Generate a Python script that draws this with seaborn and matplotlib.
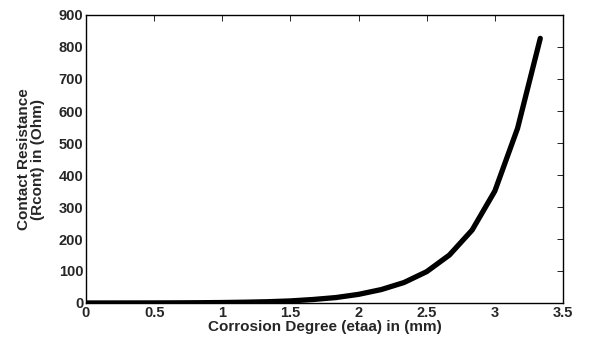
import matplotlib
matplotlib.use("Agg")
import matplotlib.pyplot as plt
import seaborn as sns
import pandas as pd

corrosion = [0.0, 0.1667, 0.3333, 0.5, 0.6667, 0.8333, 1.0, 1.1667, 1.3333, 1.5,
             1.6667, 1.8333, 2.0, 2.1667, 2.3333, 2.5, 2.6667, 2.8333, 3.0, 3.1667, 3.3333]
resistance = [0.05, 0.1, 0.2, 0.3, 0.5, 0.9, 1.5, 2.5, 4.0, 6.5,
              11, 17, 27, 42, 64, 98, 150, 228, 350, 546, 827]

xticks = [0, 0.5, 1, 1.5, 2, 2.5, 3, 3.5]
xticklabels = ["0", "0.5", "1", "1.5", "2", "2.5", "3", "3.5"]
yticks = [0, 100, 200, 300, 400, 500, 600, 700, 800, 900]

sns.set_style("white")
plt.rcParams['font.family'] = ['Liberation Sans', 'DejaVu Sans']
plt.rcParams['font.weight'] = 'bold'

df = pd.DataFrame({"x": corrosion, "y": resistance})

fig = plt.figure(figsize=(5.98, 3.40), dpi=100)
ax = fig.add_axes([86/598, 1 - 303/340, (563 - 86)/598, (303 - 15)/340])
sns.lineplot(data=df, x="x", y="y", ax=ax, color="black", linewidth=3.8, sort=False)

ax.set_xlim(0, 3.5)
ax.set_ylim(0, 900)
ax.set_xticks(xticks)
ax.set_xticklabels(xticklabels)
ax.set_yticks(yticks)
ax.tick_params(axis='both', which='both', direction='in', length=4, width=0.6,
               top=True, right=True, labelsize=10.5, pad=2, color='black')
for lab in ax.get_xticklabels() + ax.get_yticklabels():
    lab.set_fontweight('bold')
for s in ax.spines.values():
    s.set_visible(True)
    s.set_color('black')
    s.set_linewidth(1.0)

ax.set_xlabel("Corrosion Degree (etaa) in (mm)", fontsize=11, fontweight='bold', labelpad=0)
ax.set_ylabel("Contact Resistance\n(Rcont) in (Ohm)", fontsize=11, fontweight='bold', labelpad=10,
              linespacing=1.0)

fig.savefig("out.png", dpi=100)
